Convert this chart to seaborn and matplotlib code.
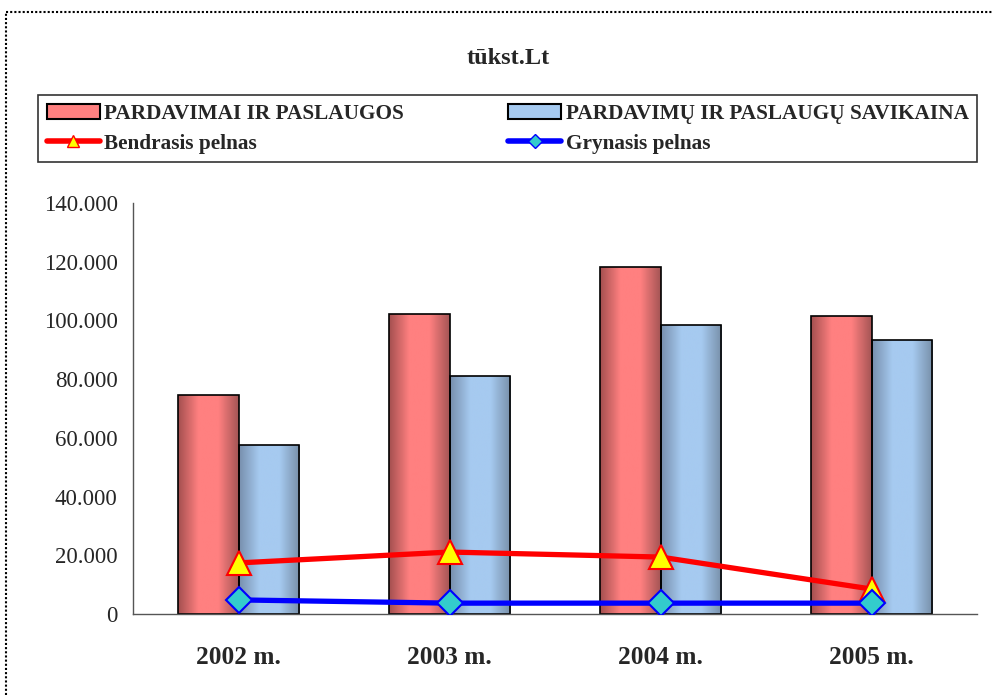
import numpy as np
import pandas as pd
import matplotlib
matplotlib.use("Agg")
import matplotlib.pyplot as plt
import seaborn as sns
from matplotlib.patches import Patch
from matplotlib.lines import Line2D
from matplotlib.colors import LinearSegmentedColormap
from matplotlib.ticker import FuncFormatter, FixedLocator

# data (tūkst. Lt)
years = ["2002 m.", "2003 m.", "2004 m.", "2005 m."]
pardavimai = [74600, 102200, 118200, 101500]
savikaina = [57500, 81000, 98400, 93300]
bendrasis = [17400, 21100, 19400, 8500]
grynasis = [4800, 3700, 3700, 3700]

bar_names = ["PARDAVIMAI IR PASLAUGOS", "PARDAVIMŲ IR PASLAUGŲ SAVIKAINA"]
line_names = ["Bendrasis pelnas", "Grynasis pelnas"]

df = pd.DataFrame({
    "year": years * 2,
    "value": pardavimai + savikaina,
    "series": [bar_names[0]] * 4 + [bar_names[1]] * 4,
})

sns.set_style("white")
plt.rcParams["font.family"] = ["Liberation Serif", "DejaVu Serif"]

fig = plt.figure(figsize=(9.92, 6.95), dpi=100)
ax = fig.add_axes([133 / 992, 81 / 695, 844 / 992, 411 / 695])

red_c = "#FF8080"
blue_c = "#A6CAF0"
sns.barplot(data=df, x="year", y="value", hue="series", hue_order=bar_names,
            palette={bar_names[0]: red_c, bar_names[1]: blue_c},
            width=0.57, edgecolor="black", linewidth=1.2, ax=ax, legend=False)

# horizontal gradient fill like the office chart bars
cmaps = {
    red_c: LinearSegmentedColormap.from_list("r", ["#A55050", "#FF8080", "#FF8080", "#A55555"]),
    blue_c: LinearSegmentedColormap.from_list("b", ["#7890AE", "#A6CAF0", "#A6CAF0", "#7890AA"]),
}
grad = np.linspace(0, 1, 64).reshape(1, -1)
for i, p in enumerate(list(ax.patches)):
    key = red_c if i < 4 else blue_c
    x0, y0 = p.get_x(), p.get_y()
    w, h = p.get_width(), p.get_height()
    im = ax.imshow(grad, cmap=cmaps[key], extent=[x0, x0 + w, y0, y0 + h],
                   aspect="auto", zorder=p.get_zorder(), interpolation="bicubic")
    im.set_clip_path(p)
    p.set_facecolor("none")
    p.set_zorder(p.get_zorder() + 0.1)

xs = np.arange(len(years))
sns.lineplot(x=xs, y=bendrasis, color="#FF0000", lw=3.8, marker="^", markersize=17,
             markerfacecolor="#FFFF00", markeredgecolor="#FF0000", markeredgewidth=1.5,
             ax=ax, zorder=5, legend=False)
sns.lineplot(x=xs, y=grynasis, color="#0000FF", lw=3.8, marker="D", markersize=13,
             markerfacecolor="#33CCCC", markeredgecolor="#0000FF", markeredgewidth=1.5,
             ax=ax, zorder=5, legend=False)

ax.set_xlim(-0.5, 3.5)
ax.set_ylim(0, 140000)
ax.set_yticks(np.arange(0, 140001, 20000))
ax.yaxis.set_major_formatter(FuncFormatter(lambda v, _: "0" if v == 0 else f"{v/1000:.3f}"))
ax.set_xticks(xs)
ax.set_xticklabels(years, fontweight="bold", fontsize=18.3)
ax.xaxis.set_minor_locator(FixedLocator([0.5, 1.5, 2.5, 3.5]))
ax.tick_params(axis="x", which="major", length=0, pad=23)
ax.tick_params(axis="x", which="minor", direction="inout", length=12, width=1, color="#555555")
ax.tick_params(axis="y", direction="inout", length=10, width=1, color="#555555",
               labelsize=16.5, pad=6)
ax.set_xlabel("")
ax.set_ylabel("")
for s in ["top", "right"]:
    ax.spines[s].set_visible(False)
for s in ["left", "bottom"]:
    ax.spines[s].set_color("#555555")
    ax.spines[s].set_linewidth(1)

fig.text(508 / 992, 1 - 59 / 695, "tūkst.Lt", ha="center", va="center",
         fontsize=17.5, fontweight="bold")

handles = [
    Patch(facecolor=red_c, edgecolor="black", linewidth=1.5),
    Line2D([], [], color="#FF0000", lw=4, marker="^", markersize=9,
           markerfacecolor="#FFFF00", markeredgecolor="#FF0000"),
    Patch(facecolor=blue_c, edgecolor="black", linewidth=1.5),
    Line2D([], [], color="#0000FF", lw=4, marker="D", markersize=7,
           markerfacecolor="#33CCCC", markeredgecolor="#0000FF"),
]
labels = [bar_names[0], line_names[0], bar_names[1], line_names[1]]
leg = fig.legend(handles, labels, loc="lower left", ncol=2, mode="expand",
                 bbox_to_anchor=(38 / 992, 1 - 162 / 695, 939 / 992, 65 / 695),
                 prop={"weight": "bold", "size": 15.3}, frameon=True, fancybox=False,
                 borderpad=0.4, handlelength=2.5, handletextpad=0.2,
                 labelspacing=0.45, borderaxespad=0)
leg.get_frame().set_edgecolor("black")
leg.get_frame().set_linewidth(1.2)

# dotted outer border
fig.add_artist(Line2D([6 / 992, 6 / 992], [0, 1 - 12 / 695], transform=fig.transFigure,
                      color="black", lw=1.5, ls=(0, (1, 1))))
fig.add_artist(Line2D([6 / 992, 1], [1 - 12 / 695, 1 - 12 / 695], transform=fig.transFigure,
                      color="black", lw=1.5, ls=(0, (1, 1))))

fig.savefig("out.png", dpi=100)
